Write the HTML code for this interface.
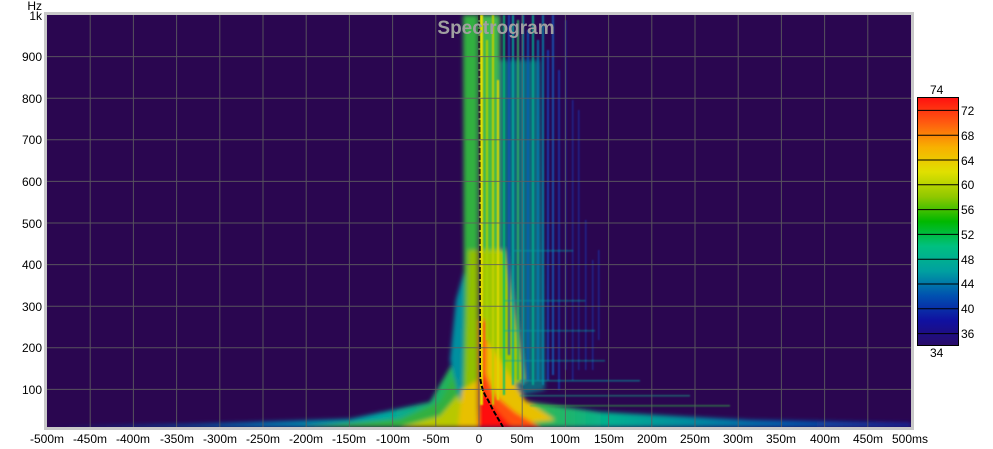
<!DOCTYPE html>
<html><head><style>
body{margin:0;background:#fff;}
svg{display:block;font-family:"Liberation Sans",sans-serif;}
</style></head><body>
<svg width="993" height="449" viewBox="0 0 993 449">
<defs>
<filter id="b2"><feGaussianBlur stdDeviation="2"/></filter>
<filter id="b1"><feGaussianBlur stdDeviation="0.8"/></filter>
<clipPath id="pc"><rect x="47" y="15" width="864" height="412"/></clipPath>
<linearGradient id="cb" x1="0" y1="0" x2="0" y2="1">
<stop offset="0" stop-color="#ff1010"/><stop offset="0.1" stop-color="#ff5a10"/>
<stop offset="0.2" stop-color="#f8b000"/><stop offset="0.3" stop-color="#e0e000"/>
<stop offset="0.4" stop-color="#90c800"/><stop offset="0.5" stop-color="#00b800"/>
<stop offset="0.6" stop-color="#00c080"/><stop offset="0.7" stop-color="#00a0a0"/>
<stop offset="0.8" stop-color="#0050b0"/><stop offset="0.9" stop-color="#1010a0"/>
<stop offset="1" stop-color="#2a0c68"/></linearGradient>
<linearGradient id="lt" x1="0" y1="0" x2="1" y2="0">
<stop offset="0" stop-color="#1828a0"/><stop offset="0.5" stop-color="#0070b0"/>
<stop offset="0.8" stop-color="#00a8a0"/><stop offset="1" stop-color="#30b840"/></linearGradient>
<linearGradient id="rt" x1="0" y1="0" x2="1" y2="0">
<stop offset="0" stop-color="#60c020"/><stop offset="0.3" stop-color="#00b090"/>
<stop offset="0.7" stop-color="#0060b0"/><stop offset="1" stop-color="#1828a0"/></linearGradient>
</defs>
<rect x="44" y="12" width="870" height="418" fill="#c8c8c8"/>
<rect x="47" y="15" width="864" height="412" fill="#2a0650"/>
<g clip-path="url(#pc)">
<g filter="url(#b2)">
<polygon points="47,427 200,424 350,419 430,402 460,350 470,427" fill="url(#lt)"/>
<polygon points="300,427 400,419 440,402 458,370 470,427" fill="#30b040"/>
<polygon points="400,427 440,416 458,395 470,427" fill="#b8c800"/>
<polygon points="455,15 472,15 470,250 456,300 450,360 460,400 476,427 476,15" fill="#0090a0"/>
<polygon points="463,15 478,15 478,427 462,400 464,300" fill="#30b040"/>
<polygon points="468,250 478,250 478,427 464,420" fill="#90c000"/>
<polygon points="462,390 478,380 478,427 458,427" fill="#e8c000"/>
<polygon points="480,395 600,412 750,420 911,423 911,427 480,427" fill="url(#rt)"/>
<polygon points="480,15 500,15 500,400 480,420" fill="#40b850"/>
<polygon points="500,60 540,60 545,390 500,400" fill="#00a098" opacity="0.6"/>
<polygon points="480,250 505,250 525,380 480,400" fill="#a0c800"/>
<polygon points="480,330 500,360 525,400 555,420 480,427" fill="#e8c000"/>
<polygon points="480,360 495,395 515,412 540,427 480,427" fill="#ff5010"/>
<rect x="479" y="320" width="7" height="107" fill="#ff3010"/>
<polygon points="480,385 495,408 512,427 478,427" fill="#ff1010"/>
</g>
<g filter="url(#b1)">
<rect x="480" y="15" width="3" height="390" fill="#e8e000"/>
<rect x="486" y="40" width="2" height="300" fill="#a8d000"/>
<rect x="492" y="15" width="2" height="390" fill="#c0d000"/>
<rect x="497" y="80" width="2" height="320" fill="#e0d800"/>
<rect x="503" y="15" width="2" height="380" fill="#00c070" opacity="0.9"/>
<rect x="508" y="15" width="2" height="340" fill="#1050c0" opacity="0.8"/>
<rect x="512" y="15" width="2" height="370" fill="#00b0a0" opacity="0.9"/>
<rect x="517" y="20" width="2" height="360" fill="#30b060" opacity="0.9"/>
<rect x="522" y="15" width="2" height="370" fill="#00a0a8" opacity="0.9"/>
<rect x="527" y="30" width="2" height="350" fill="#0060c0" opacity="0.8"/>
<rect x="532" y="15" width="2" height="370" fill="#00b090" opacity="0.9"/>
<rect x="537" y="40" width="2" height="340" fill="#0080b8" opacity="0.8"/>
<rect x="542" y="15" width="2" height="370" fill="#0090b0" opacity="0.8"/>
<rect x="547" y="50" width="2" height="330" fill="#1048c0" opacity="0.8"/>
<rect x="552" y="15" width="2" height="360" fill="#1060c0" opacity="0.8"/>
<rect x="558" y="70" width="2" height="320" fill="#1040b8" opacity="0.7"/>
<rect x="565" y="20" width="1.5" height="350" fill="#1838b8" opacity="0.7"/>
<rect x="572" y="100" width="1.5" height="280" fill="#1838b8" opacity="0.6"/>
<rect x="578" y="110" width="1.5" height="260" fill="#1838b8" opacity="0.6"/>
<rect x="585" y="220" width="1.5" height="150" fill="#1838b8" opacity="0.6"/>
<rect x="592" y="260" width="1.5" height="110" fill="#1838b8" opacity="0.6"/>
<rect x="598" y="250" width="1.5" height="90" fill="#1838b8" opacity="0.6"/>
<rect x="513" y="250" width="60" height="1.5" fill="#00a0a0" opacity="0.5"/>
<rect x="505" y="300" width="80" height="1.5" fill="#00a0a0" opacity="0.5"/>
<rect x="505" y="330" width="90" height="1.5" fill="#00a0a0" opacity="0.5"/>
<rect x="505" y="360" width="100" height="1.5" fill="#00a0a0" opacity="0.5"/>
<rect x="520" y="380" width="120" height="1.5" fill="#00a0a0" opacity="0.6"/>
<rect x="520" y="395" width="170" height="1.5" fill="#10a080" opacity="0.6"/>
<rect x="530" y="405" width="200" height="1.5" fill="#30b040" opacity="0.6"/>
</g>
<path d="M479,15 L480,375 Q481,390 488,400 L493,410 L503,427" fill="none" stroke="#000" stroke-width="2" stroke-dasharray="5,2"/>
</g>
<g stroke="#606060" stroke-width="1" fill="none" opacity="0.85">
<path d="M90.2,15V427M133.4,15V427M176.6,15V427M219.8,15V427M263,15V427M306.2,15V427M349.4,15V427M392.6,15V427M435.8,15V427M479,15V427M522.2,15V427M565.4,15V427M608.6,15V427M651.8,15V427M695,15V427M738.2,15V427M781.4,15V427M824.6,15V427M867.8,15V427"/>
<path d="M47,56.6H911M47,98.2H911M47,139.8H911M47,181.4H911M47,223H911M47,264.6H911M47,306.2H911M47,347.8H911M47,389.4H911"/>
</g>
<text x="496" y="34" font-size="19" font-weight="bold" fill="#a0a0a0" text-anchor="middle">Spectrogram</text>
<g font-size="12" fill="#000" text-anchor="end">
<text x="42" y="10">Hz</text><text x="42" y="20">1k</text>
<text x="42" y="61">900</text><text x="42" y="103">800</text><text x="42" y="144">700</text>
<text x="42" y="186">600</text><text x="42" y="228">500</text><text x="42" y="269">400</text>
<text x="42" y="311">300</text><text x="42" y="352">200</text><text x="42" y="394">100</text>
</g>
<g font-size="12" fill="#000" text-anchor="middle">
<text x="47" y="443">-500m</text><text x="90" y="443">-450m</text><text x="133" y="443">-400m</text>
<text x="177" y="443">-350m</text><text x="220" y="443">-300m</text><text x="263" y="443">-250m</text>
<text x="306" y="443">-200m</text><text x="349" y="443">-150m</text><text x="393" y="443">-100m</text>
<text x="436" y="443">-50m</text><text x="479" y="443">0</text><text x="522" y="443">50m</text>
<text x="565" y="443">100m</text><text x="609" y="443">150m</text><text x="652" y="443">200m</text>
<text x="695" y="443">250m</text><text x="738" y="443">300m</text><text x="781" y="443">350m</text>
<text x="825" y="443">400m</text><text x="868" y="443">450m</text><text x="910" y="443">500ms</text>
</g>
<rect x="917.5" y="97.5" width="41" height="248" fill="url(#cb)" stroke="#000"/>
<g stroke="#000" stroke-width="1">
<path d="M918,110.4H958M918,135.2H958M918,160H958M918,184.8H958M918,209.6H958M918,234.4H958M918,259.2H958M918,284H958M918,308.8H958M918,333.6H958"/>
</g>
<g font-size="12" fill="#000">
<text x="930" y="94">74</text><text x="930" y="357">34</text>
<text x="961" y="115">72</text><text x="961" y="140">68</text><text x="961" y="165">64</text>
<text x="961" y="189">60</text><text x="961" y="214">56</text><text x="961" y="239">52</text>
<text x="961" y="264">48</text><text x="961" y="288">44</text><text x="961" y="313">40</text>
<text x="961" y="338">36</text>
</g>
</svg>
</body></html>
